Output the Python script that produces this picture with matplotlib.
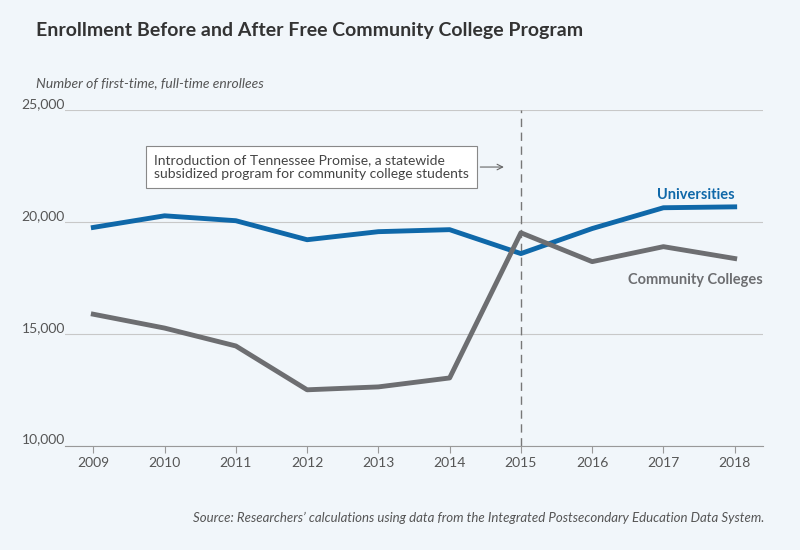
import matplotlib.pyplot as plt

plt.rcParams['font.family'] = ['Lato', 'DejaVu Sans']

years = [2009, 2010, 2011, 2012, 2013, 2014, 2015, 2016, 2017, 2018]
universities = [19750, 20270, 20050, 19200, 19560, 19650, 18580, 19700, 20630, 20670]
community = [15870, 15250, 14450, 12490, 12620, 13020, 19510, 18220, 18890, 18360]

bg = '#f1f6fa'
blue = '#0f68a9'
grey = '#6d6e71'

fig = plt.figure(figsize=(8, 5.5), dpi=100, facecolor=bg)
ax = fig.add_axes([0.081, 0.19, 0.873, 0.61], facecolor=bg)

ax.plot(years, universities, color=blue, lw=3.5, zorder=3)
ax.plot(years, community, color=grey, lw=3.5, zorder=3)
ax.axvline(2015, color='#777777', lw=1, ls=(0, (6, 4)), zorder=2)

ax.set_ylim(10000, 25000)
ax.set_xlim(2008.6, 2018.4)
ax.set_yticks([10000, 15000, 20000, 25000])
ax.set_yticklabels(['10,000', '15,000', '20,000', '25,000'])
ax.set_xticks(years)
ax.grid(axis='y', color='#c8c8c8', lw=0.8)
for s in ['top', 'right', 'left']:
    ax.spines[s].set_visible(False)
ax.spines['bottom'].set_color('#999999')
ax.tick_params(axis='y', length=0, labelsize=10, colors='#555555', pad=0)
for lab in ax.get_yticklabels():
    lab.set_horizontalalignment('left')
    lab.set_verticalalignment('bottom')
    lab.set_x(-0.062)
ax.tick_params(axis='x', length=5, color='#999999', labelsize=10, colors='#555555')

ax.text(2018, 20900, 'Universities', color=blue, fontsize=10.5, fontweight='bold', ha='right', va='bottom')
ax.text(2018.4, 17400, 'Community Colleges', color=grey, fontsize=10.5, fontweight='bold', ha='right', va='center')

ax.annotate('Introduction of Tennessee Promise, a statewide\nsubsidized program for community college students',
            xy=(2014.8, 22450), xytext=(2009.85, 22450), fontsize=10, color='#444444', va='center',
            bbox=dict(boxstyle='square,pad=0.6', fc='white', ec='#888888', lw=0.8),
            arrowprops=dict(arrowstyle='->', color='#666666', lw=0.8))

fig.text(0.045, 0.935, 'Enrollment Before and After Free Community College Program',
         fontsize=14, fontweight='bold', color='#333333')
fig.text(0.045, 0.842, 'Number of first-time, full-time enrollees', fontsize=10,
         style='italic', color='#555555')
fig.text(0.955, 0.05, 'Source: Researchers\u2019 calculations using data from the Integrated Postsecondary Education Data System.',
         fontsize=9.5, style='italic', color='#555555', ha='right')

fig.savefig('out.png', facecolor=bg)
